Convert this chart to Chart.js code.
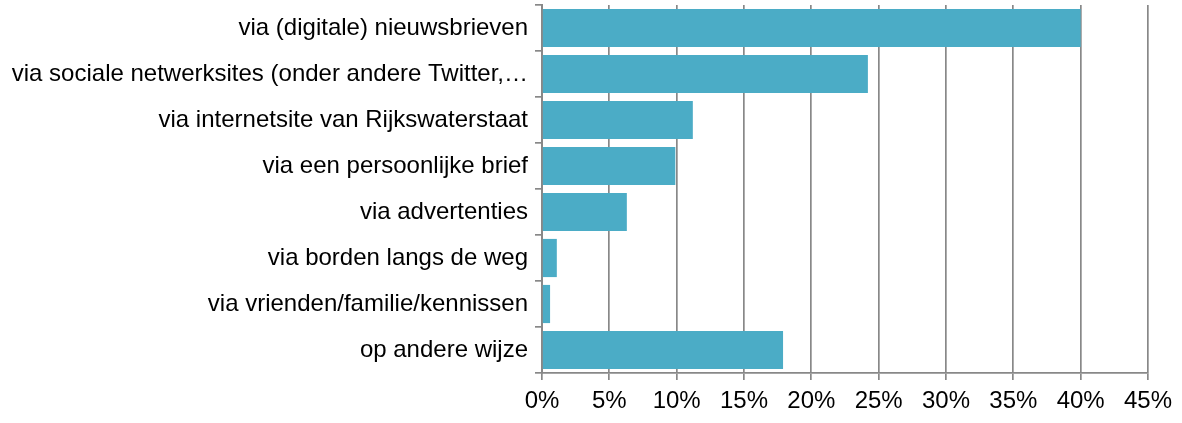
<!DOCTYPE html>
<html>
<head>
<meta charset="utf-8">
<script src="https://cdn.jsdelivr.net/npm/chart.js@4"></script>
<style>
  html, body { margin: 0; padding: 0; background: #fff; }
  #wrap { width: 1182px; height: 423px; }
</style>
</head>
<body>
<div id="wrap"><canvas id="chart"></canvas></div>
<script>
// categories, top to bottom
const categories = [
    'via (digitale) nieuwsbrieven',
    'via sociale netwerksites (onder andere Twitter,\u2026',
    'via internetsite van Rijkswaterstaat',
    'via een persoonlijke brief',
    'via advertenties',
    'via borden langs de weg',
    'via vrienden/familie/kennissen',
    'op andere wijze'
];
// percentages
const shares = [40.0, 24.2, 11.2, 9.9, 6.3, 1.1, 0.6, 17.9];
const tickValues = [0, 5, 10, 15, 20, 25, 30, 35, 40, 45];

const gray = '#888888';
const font = { family: '"Liberation Sans", Arial, sans-serif', size: 24 };

new Chart(document.getElementById('chart'), {
    type: 'bar',
    data: {
        labels: categories,
        datasets: [{
            data: shares,
            backgroundColor: '#4bacc6',
            barPercentage: 0.83,
            categoryPercentage: 1.0
        }]
    },
    options: {
        indexAxis: 'y',
        responsive: true,
        maintainAspectRatio: false,
        animation: false,
        layout: { padding: { top: 0, right: 34, bottom: 0, left: 0 } },
        plugins: {
            legend: { display: false },
            tooltip: { enabled: false }
        },
        scales: {
            x: {
                min: 0,
                max: 45,
                afterBuildTicks: axis => { axis.ticks = tickValues.map(v => ({ value: v })); },
                afterFit: axis => { axis.height = 50; },
                ticks: {
                    color: '#000',
                    font: font,
                    padding: 7,
                    callback: v => v + '%'
                },
                grid: { color: gray, lineWidth: 1.7, tickLength: 7 },
                border: { color: gray, width: 1.7 }
            },
            y: {
                afterFit: axis => {
                    axis.width = 542;
                    axis.paddingTop = 5;
                    axis.paddingBottom = 0;
                },
                ticks: { color: '#000', font: font, padding: 7 },
                grid: { drawOnChartArea: false, color: gray, lineWidth: 1.7, tickLength: 7 },
                border: { color: gray, width: 2 }
            }
        }
    }
});
</script>
</body>
</html>
